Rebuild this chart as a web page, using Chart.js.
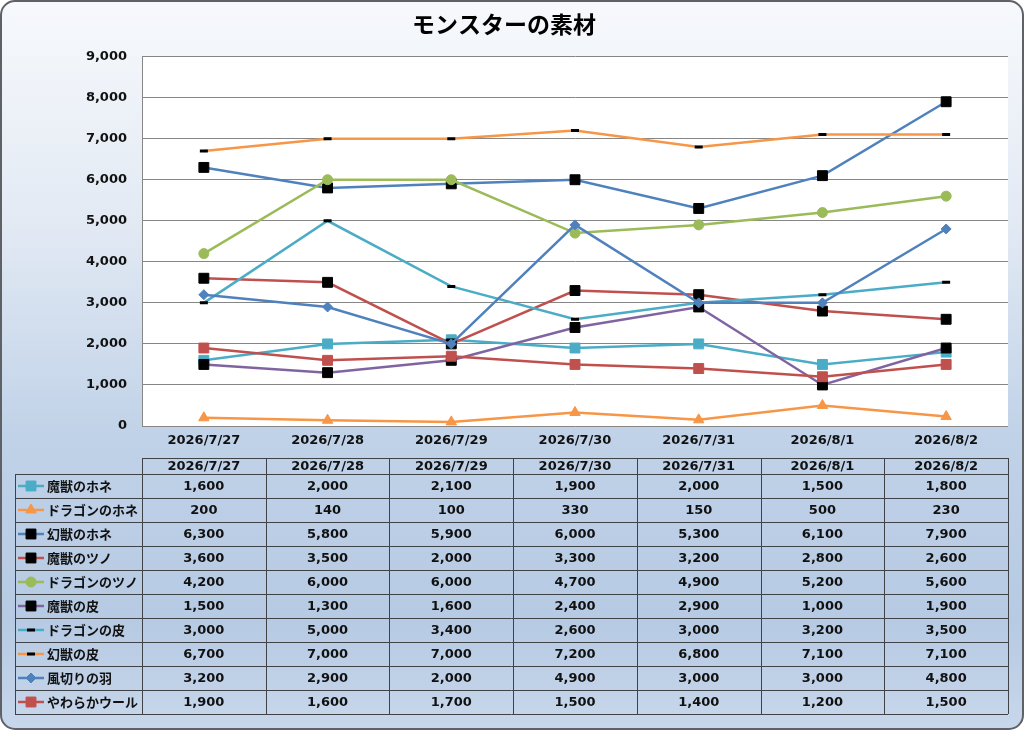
<!DOCTYPE html>
<html>
<head>
<meta charset="utf-8">
<script src="https://cdn.jsdelivr.net/npm/chart.js@4.4.1/dist/chart.umd.min.js"></script>
<style>
    html, body { margin: 0; padding: 0; background: #ffffff; }
    #wrap { width: 1024px; height: 730px; }
</style>
</head>
<body>
<div id="wrap"><canvas id="chartMaterials" width="1024" height="730"></canvas></div>
<script>
const labels = ['2026/7/27', '2026/7/28', '2026/7/29', '2026/7/30', '2026/7/31', '2026/8/1', '2026/8/2'];
const seriesNames = ['魔獣のホネ', 'ドラゴンのホネ', '幻獣のホネ', '魔獣のツノ', 'ドラゴンのツノ',
    '魔獣の皮', 'ドラゴンの皮', '幻獣の皮', '風切りの羽', 'やわらかウール'];

const majuHone = [1600, 2000, 2100, 1900, 2000, 1500, 1800];
const dragonHone = [200, 140, 100, 330, 150, 500, 230];
const genjuHone = [6300, 5800, 5900, 6000, 5300, 6100, 7900];
const majuTsuno = [3600, 3500, 2000, 3300, 3200, 2800, 2600];
const dragonTsuno = [4200, 6000, 6000, 4700, 4900, 5200, 5600];
const majuKawa = [1500, 1300, 1600, 2400, 2900, 1000, 1900];
const dragonKawa = [3000, 5000, 3400, 2600, 3000, 3200, 3500];
const genjuKawa = [6700, 7000, 7000, 7200, 6800, 7100, 7100];
const kazakiriHane = [3200, 2900, 2000, 4900, 3000, 3000, 4800];
const wool = [1900, 1600, 1700, 1500, 1400, 1200, 1500];

const yTicks = [0, 1000, 2000, 3000, 4000, 5000, 6000, 7000, 8000, 9000];

const seriesValues = [majuHone, dragonHone, genjuHone, majuTsuno, dragonTsuno,
    majuKawa, dragonKawa, genjuKawa, kazakiriHane, wool];

// line colour, marker shape, marker size, marker colour
const styles = [
    { line: '#4BACC6', shape: 'rect', r: 7, mark: '#4BACC6', bw: 1 },
    { line: '#F79646', shape: 'triangle', r: 6, mark: '#F79646', bw: 1 },
    { line: '#4F81BD', shape: 'rect', r: 7, mark: '#000000', bw: 1 },
    { line: '#C0504D', shape: 'rect', r: 7, mark: '#000000', bw: 1 },
    { line: '#9BBB59', shape: 'circle', r: 5, mark: '#9BBB59', bw: 1 },
    { line: '#8064A2', shape: 'rect', r: 7, mark: '#000000', bw: 1 },
    { line: '#4BACC6', shape: 'line', r: 4, mark: '#000000', bw: 3 },
    { line: '#F79646', shape: 'line', r: 4, mark: '#000000', bw: 3 },
    { line: '#4F81BD', shape: 'rectRot', r: 5, mark: '#4F81BD', bw: 1 },
    { line: '#C0504D', shape: 'rect', r: 7, mark: '#C0504D', bw: 1 },
];

const cjkFont = '"Noto Sans CJK JP", "Noto Sans", sans-serif';
const numFont = '"DejaVu Sans", "Noto Sans CJK JP", sans-serif';
Chart.defaults.font.family = cjkFont;
Chart.defaults.color = '#000000';

const fmt = v => v.toLocaleString('en-US');

const backgroundPlugin = {
    id: 'background',
    beforeDraw(chart) {
        const ctx = chart.ctx;
        const a = chart.chartArea;
        ctx.save();
        const g = ctx.createLinearGradient(0, 0, 0, chart.height);
        g.addColorStop(0, '#f7f9fc');
        g.addColorStop(0.3, '#e3eaf4');
        g.addColorStop(0.6, '#c0d2e8');
        g.addColorStop(0.85, '#b6cae3');
        g.addColorStop(1, '#c8d7eb');
        ctx.beginPath();
        ctx.roundRect(1, 1, chart.width - 2, chart.height - 2, 14);
        ctx.fillStyle = g;
        ctx.fill();
        ctx.lineWidth = 2;
        ctx.strokeStyle = '#5e6166';
        ctx.stroke();
        ctx.fillStyle = '#ffffff';
        ctx.fillRect(a.left, a.top, a.right - a.left, a.bottom - a.top);
        ctx.restore();
    }
};

const dataTablePlugin = {
    id: 'dataTable',
    afterDraw(chart) {
        const ctx = chart.ctx;
        const a = chart.chartArea;
        const xs = chart.scales.x;
        const colW = (a.right - a.left) / labels.length;
        const top = 458, headH = 16, rowH = 24, legendLeft = 15;
        const bodyTop = top + headH;
        const bottom = bodyTop + rowH * seriesNames.length;
        ctx.save();
        ctx.strokeStyle = '#3f4347';
        ctx.lineWidth = 1;
        ctx.beginPath();
        // horizontal lines
        ctx.moveTo(a.left, top + 0.5); ctx.lineTo(a.right, top + 0.5);
        for (let k = 0; k <= seriesNames.length; k++) {
            const y = Math.round(bodyTop + k * rowH) + 0.5;
            ctx.moveTo(legendLeft, y); ctx.lineTo(a.right, y);
        }
        // vertical lines
        ctx.moveTo(legendLeft + 0.5, bodyTop); ctx.lineTo(legendLeft + 0.5, bottom);
        for (let i = 0; i <= labels.length; i++) {
            const x = Math.round(a.left + i * colW) + 0.5;
            ctx.moveTo(x, top); ctx.lineTo(x, bottom);
        }
        ctx.stroke();

        ctx.fillStyle = '#111111';
        ctx.textAlign = 'center';
        ctx.textBaseline = 'middle';
        ctx.font = 'bold 13px ' + numFont;
        labels.forEach((lab, i) => {
            ctx.fillText(lab, xs.getPixelForValue(i), top + headH / 2 + 1);
        });
        seriesValues.forEach((vals, k) => {
            const yc = bodyTop + k * rowH + rowH / 2 + 1;
            vals.forEach((v, i) => {
                ctx.fillText(fmt(v), xs.getPixelForValue(i), yc);
            });
        });

        ctx.textAlign = 'left';
        ctx.font = 'bold 13px ' + cjkFont;
        seriesNames.forEach((name, k) => {
            const yc = bodyTop + k * rowH + rowH / 2;
            const st = styles[k];
            ctx.strokeStyle = st.line;
            ctx.lineWidth = 2.5;
            ctx.beginPath();
            ctx.moveTo(legendLeft + 3, yc);
            ctx.lineTo(legendLeft + 29, yc);
            ctx.stroke();
            ctx.fillStyle = st.mark;
            ctx.strokeStyle = st.mark;
            ctx.lineWidth = st.bw;
            Chart.helpers.drawPoint(ctx, { pointStyle: st.shape, radius: st.r, rotation: 0, borderWidth: st.bw },
                legendLeft + 16, yc);
            ctx.fillStyle = '#111111';
            ctx.fillText(name, legendLeft + 32, yc);
        });
        ctx.restore();
    }
};

const datasets = seriesNames.map((name, i) => ({
    label: name,
    data: seriesValues[i],
    borderColor: styles[i].line,
    borderWidth: 2.5,
    backgroundColor: styles[i].mark,
    pointStyle: styles[i].shape,
    pointRadius: styles[i].r,
    pointBackgroundColor: styles[i].mark,
    pointBorderColor: styles[i].mark,
    pointBorderWidth: styles[i].bw,
    tension: 0,
    fill: false,
    order: seriesNames.length - i,
}));

new Chart(document.getElementById('chartMaterials'), {
    type: 'line',
    data: { labels: labels, datasets: datasets },
    options: {
        responsive: false,
        animation: false,
        layout: { padding: { top: 8, right: 16, bottom: 0, left: 0 } },
        plugins: {
            legend: { display: false },
            tooltip: { enabled: false },
            title: {
                display: true,
                text: 'モンスターの素材',
                color: '#000000',
                font: { size: 23, weight: 'bold' },
                padding: { top: 2, bottom: 19 },
            },
        },
        scales: {
            x: {
                offset: true,
                grid: { display: false, drawTicks: false },
                border: { display: false },
                ticks: { padding: 7, font: { family: numFont, size: 13, weight: 'bold' }, color: '#111111', maxRotation: 0 },
                afterFit(scale) { scale.height = 304; },
            },
            y: {
                min: 0,
                max: 9000,
                afterBuildTicks(scale) { scale.ticks = yTicks.map(v => ({ value: v })); },
                grid: { color: '#868686', lineWidth: 1, drawTicks: false },
                border: { display: true, color: '#868686', width: 1 },
                ticks: { padding: 15, font: { family: numFont, size: 13, weight: 'bold' }, color: '#111111', callback: v => fmt(v) },
                afterFit(scale) { scale.width = 142; },
            },
        },
    },
    plugins: [backgroundPlugin, dataTablePlugin],
});
</script>
</body>
</html>
